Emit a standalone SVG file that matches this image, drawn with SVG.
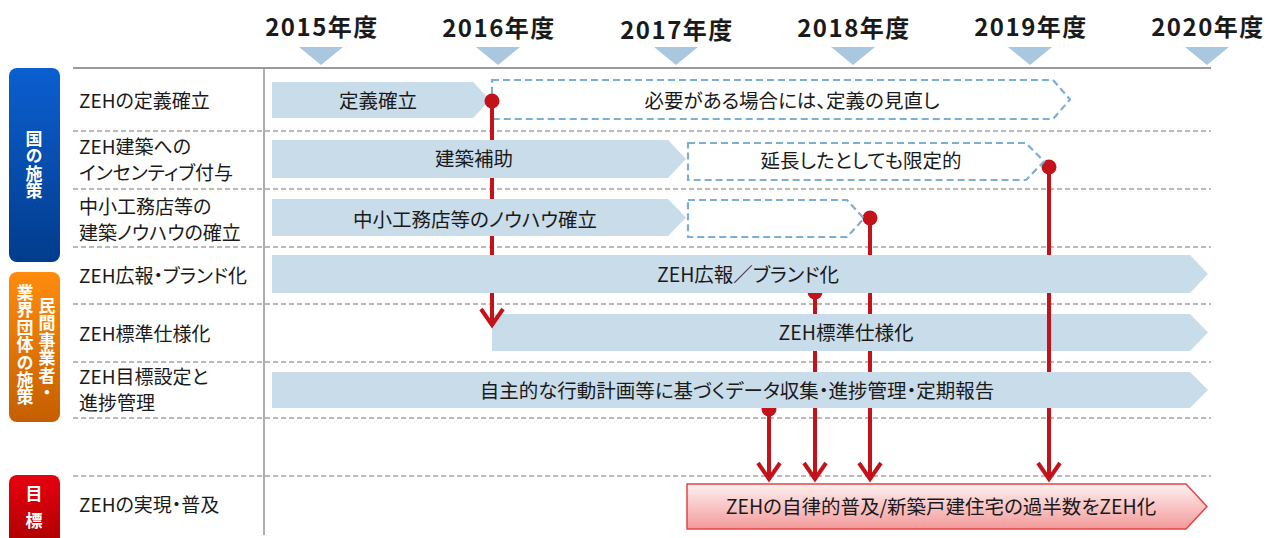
<svg xmlns="http://www.w3.org/2000/svg" width="1273" height="538" viewBox="0 0 1273 538">
<defs>
  <linearGradient id="gBlue" x1="0" y1="0" x2="0" y2="1"><stop offset="0" stop-color="#0b5fd0"/><stop offset="1" stop-color="#023c8c"/></linearGradient>
  <linearGradient id="gOrange" x1="0" y1="0" x2="0" y2="1"><stop offset="0" stop-color="#ff8c0c"/><stop offset="1" stop-color="#c45e00"/></linearGradient>
  <linearGradient id="gRed" x1="0" y1="0" x2="0" y2="1"><stop offset="0" stop-color="#e8000f"/><stop offset="1" stop-color="#a80000"/></linearGradient>
  <linearGradient id="gGoal" x1="0" y1="0" x2="0" y2="1"><stop offset="0" stop-color="#fff0f0"/><stop offset="1" stop-color="#f39a9a"/></linearGradient>
  <marker id="head" viewBox="-20 -14 24 28" markerWidth="24" markerHeight="28" refX="0" refY="0" orient="auto" markerUnits="userSpaceOnUse">
    <path d="M-17,-11 L-1,0 L-17,11" fill="none" stroke="#c4121a" stroke-width="4"/>
  </marker>
</defs>
<style>
  text { font-family: "Noto Sans CJK JP", "Noto Sans", sans-serif; fill: #1a1a1a; font-feature-settings: "palt" 1; }
  .year { font-size: 24px; font-weight: bold; text-anchor: middle; letter-spacing: 1.5px; font-feature-settings: normal; }
  .tri { fill: #a9c8e0; }
  .lbl { font-size: 19px; }
  .bt { font-size: 19.5px; text-anchor: middle; }
  .bar { fill: #c9dcea; }
  .dash { fill: none; stroke: #7eaed2; stroke-width: 2.2; stroke-dasharray: 7 4; }
  .div { stroke: #a2a2a2; stroke-width: 1.4; stroke-dasharray: 5 3; fill: none; }
  .side { font-size: 17px; font-weight: bold; fill: #ffffff; writing-mode: vertical-rl; text-orientation: upright; font-feature-settings: normal; letter-spacing: 0.4px; }
  .sideh { font-size: 17px; font-weight: bold; fill: #ffffff; text-anchor: middle; }
  .red { stroke: #c4121a; stroke-width: 4; fill: none; }
  .dot { fill: #c4121a; }
</style>

<g id="grid">
  <line x1="73" y1="68" x2="1211" y2="68" stroke="#9a9a9a" stroke-width="2"/>
  <line x1="264" y1="68" x2="264" y2="535" stroke="#9a9a9a" stroke-width="1.6"/>
  <line class="div" x1="73" y1="131" x2="1211" y2="131"/>
  <line class="div" x1="73" y1="189" x2="1211" y2="189"/>
  <line class="div" x1="73" y1="247" x2="1211" y2="247"/>
  <line class="div" x1="73" y1="304" x2="1211" y2="304"/>
  <line class="div" x1="73" y1="362" x2="1211" y2="362"/>
  <line class="div" x1="73" y1="418" x2="1211" y2="418"/>
  <line class="div" x1="73" y1="476" x2="1211" y2="476"/>
</g>

<g id="years">
  <text class="year" x="322" y="36">2015年度</text>
  <text class="year" x="499" y="37">2016年度</text>
  <text class="year" x="677" y="39">2017年度</text>
  <text class="year" x="854" y="37">2018年度</text>
  <text class="year" x="1031" y="36">2019年度</text>
  <text class="year" x="1208" y="36">2020年度</text>
  <polygon class="tri" points="299,47 343,47 321,65"/>
  <polygon class="tri" points="476,47 520,47 498,65"/>
  <polygon class="tri" points="654,47 698,47 676,65"/>
  <polygon class="tri" points="831,47 875,47 853,65"/>
  <polygon class="tri" points="1008,47 1052,47 1030,65"/>
  <polygon class="tri" points="1185,47 1229,47 1207,65"/>
</g>

<g id="cat-gov">
  <rect x="9" y="68" width="51" height="194" rx="8" fill="url(#gBlue)"/>
  <text class="side" x="34" y="130">国の施策</text>
</g>
<g id="cat-private">
  <rect x="9" y="272" width="51" height="150" rx="8" fill="url(#gOrange)"/>
  <text class="side" x="47" y="297">民間事業者・</text>
  <text class="side" x="25" y="284">業界団体の施策</text>
</g>
<g id="cat-goal">
  <rect x="9" y="475" width="51" height="75" rx="8" fill="url(#gRed)"/>
  <text class="sideh" x="34" y="500">目</text>
  <text class="sideh" x="34" y="527">標</text>
</g>

<g id="row1">
  <text class="lbl" x="79" y="108">ZEHの定義確立</text>
  <polygon class="bar" points="272,82 473,82 490,100 473,118 272,118"/>
  <text class="bt" x="378" y="108">定義確立</text>
  <polygon class="dash" points="492,80 1053,80 1070,99.5 1053,119 492,119"/>
  <text class="bt" x="792" y="108">必要がある場合には、定義の見直し</text>
</g>

<g id="row5">
  <text class="lbl" x="79" y="341">ZEH標準仕様化</text>
  <polygon class="bar" points="492,314 1190,314 1208,332.5 1190,351 492,351"/>
  <text class="bt" x="846" y="340">ZEH標準仕様化</text>
</g>

<g id="connectors">
  <circle class="dot" cx="492" cy="101" r="7.5"/>
  <line class="red" x1="492" y1="101" x2="492" y2="326" marker-end="url(#head)"/>
  <circle class="dot" cx="815" cy="292" r="7.5"/>
  <line class="red" x1="815" y1="292" x2="815" y2="314"/>
  <line class="red" x1="815" y1="351" x2="815" y2="480" marker-end="url(#head)"/>
  <circle class="dot" cx="870" cy="218" r="7.5"/>
  <line class="red" x1="870" y1="218" x2="870" y2="314"/>
  <line class="red" x1="870" y1="351" x2="870" y2="480" marker-end="url(#head)"/>
  <circle class="dot" cx="1049" cy="167" r="7.5"/>
  <line class="red" x1="1049" y1="167" x2="1049" y2="480" marker-end="url(#head)"/>
  <circle class="dot" cx="769" cy="409" r="7.5"/>
  <line class="red" x1="769" y1="409" x2="769" y2="480" marker-end="url(#head)"/>
</g>

<g id="row2">
  <text class="lbl" x="79" y="154">ZEH建築への</text>
  <text class="lbl" x="79" y="180">インセンティブ付与</text>
  <polygon class="bar" points="272,140 668,140 686,159 668,178 272,178"/>
  <text class="bt" x="474" y="166">建築補助</text>
  <polygon class="dash" points="688,143 1026,143 1044,161.5 1026,180 688,180"/>
  <text class="bt" x="861" y="168">延長したとしても限定的</text>
</g>

<g id="row3">
  <text class="lbl" x="79" y="214">中小工務店等の</text>
  <text class="lbl" x="79" y="240">建築ノウハウの確立</text>
  <polygon class="bar" points="272,199 668,199 686,217.5 668,236 272,236"/>
  <text class="bt" x="475" y="227">中小工務店等のノウハウ確立</text>
  <polygon class="dash" points="688,200 847,200 864,218.5 847,237 688,237"/>
</g>

<g id="row4">
  <text class="lbl" x="79" y="283">ZEH広報・ブランド化</text>
  <polygon class="bar" points="272,255 1190,255 1208,274 1190,293 272,293"/>
  <text class="bt" x="748" y="282">ZEH広報／ブランド化</text>
</g>

<g id="row6">
  <text class="lbl" x="79" y="384">ZEH目標設定と</text>
  <text class="lbl" x="79" y="410">進捗管理</text>
  <polygon class="bar" points="272,372 1190,372 1208,390 1190,408 272,408"/>
  <text class="bt" x="737" y="398">自主的な行動計画等に基づくデータ収集・進捗管理・定期報告</text>
</g>

<g id="goal">
  <text class="lbl" x="79" y="512">ZEHの実現・普及</text>
  <polygon points="687,484 1186,484 1207,506.5 1186,529 687,529" fill="url(#gGoal)" stroke="#e04545" stroke-width="1.5"/>
  <text class="bt" x="941" y="514">ZEHの自律的普及/新築戸建住宅の過半数をZEH化</text>
</g>
</svg>
